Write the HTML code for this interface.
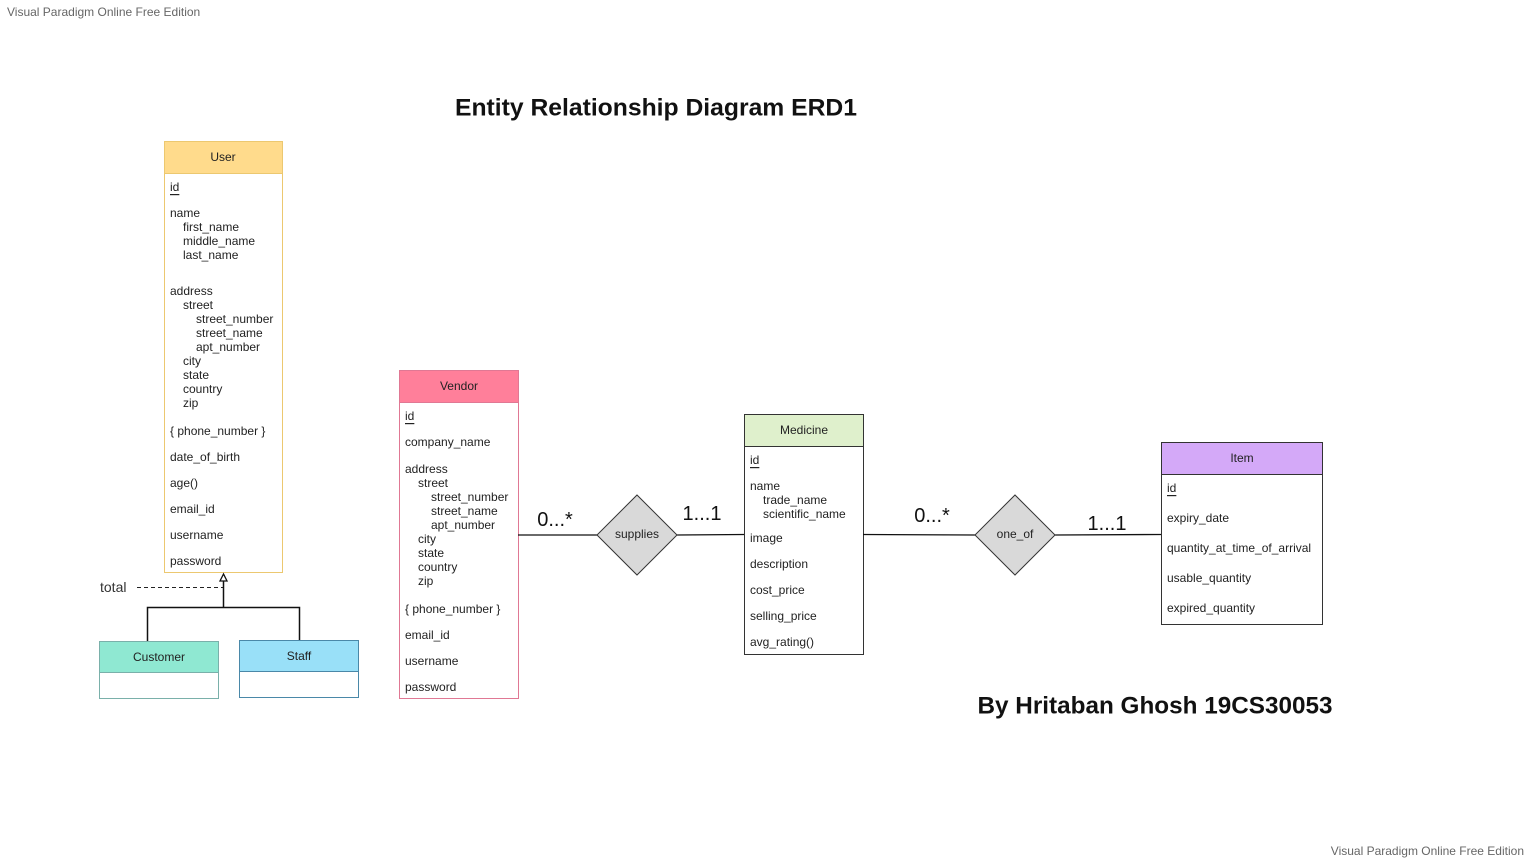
<!DOCTYPE html>
<html><head><meta charset="utf-8"><style>
html,body{margin:0;padding:0;background:#fff;}
svg{display:block;font-family:"Liberation Sans",Arial,sans-serif;}
.t{font-size:12px;fill:#222;dominant-baseline:central;}
.h{font-size:12px;fill:#222;dominant-baseline:central;text-anchor:middle;}
.u{text-decoration:underline;}
.c{font-size:20px;fill:#111;dominant-baseline:central;text-anchor:middle;}
</style></head><body>
<svg width="1530" height="860" viewBox="0 0 1530 860" xmlns="http://www.w3.org/2000/svg">
<text x="7" y="12" font-size="12" fill="#666" dominant-baseline="central">Visual Paradigm Online Free Edition</text>
<text x="1524" y="851" font-size="12" fill="#666" dominant-baseline="central" text-anchor="end">Visual Paradigm Online Free Edition</text>
<text x="656" y="108" font-size="24" font-weight="bold" fill="#111" dominant-baseline="central" text-anchor="middle" textLength="402" lengthAdjust="spacingAndGlyphs">Entity Relationship Diagram ERD1</text>
<text x="1155" y="706" font-size="24" font-weight="bold" fill="#111" dominant-baseline="central" text-anchor="middle" textLength="355" lengthAdjust="spacingAndGlyphs">By Hritaban Ghosh 19CS30053</text>

<!-- User -->
<rect x="164.5" y="141.5" width="118" height="431" fill="#fff" stroke="#ecc870"/>
<rect x="164.5" y="141.5" width="118" height="32" fill="#ffdb8c" stroke="#ecc870"/>
<text class="h" x="223" y="157">User</text>
<g class="t">
<text class="t u" x="170" y="187">id</text>
<text class="t" x="170" y="213">name</text>
<text class="t" x="183" y="227">first_name</text>
<text class="t" x="183" y="241">middle_name</text>
<text class="t" x="183" y="255">last_name</text>
<text class="t" x="170" y="291">address</text>
<text class="t" x="183" y="305">street</text>
<text class="t" x="196" y="319">street_number</text>
<text class="t" x="196" y="333">street_name</text>
<text class="t" x="196" y="347">apt_number</text>
<text class="t" x="183" y="361">city</text>
<text class="t" x="183" y="375">state</text>
<text class="t" x="183" y="389">country</text>
<text class="t" x="183" y="403">zip</text>
<text class="t" x="170" y="431">{ phone_number }</text>
<text class="t" x="170" y="457">date_of_birth</text>
<text class="t" x="170" y="483">age()</text>
<text class="t" x="170" y="509">email_id</text>
<text class="t" x="170" y="535">username</text>
<text class="t" x="170" y="561">password</text>
</g>

<!-- generalization -->
<line x1="137" y1="587.5" x2="223" y2="587.5" stroke="#222" stroke-dasharray="4,3"/>
<text x="100" y="587" font-size="14" fill="#333" dominant-baseline="central">total</text>
<polyline points="147.5,641 147.5,607.5 299.5,607.5 299.5,640" fill="none" stroke="#111" stroke-width="1.5"/>
<line x1="223.5" y1="607.5" x2="223.5" y2="581" stroke="#111" stroke-width="1.5"/>
<polygon points="223.5,574 220,581 227,581" fill="#fff" stroke="#111" stroke-width="1.3"/>

<!-- Customer -->
<rect x="99.5" y="641.5" width="119" height="57" fill="#fff" stroke="#7ab0aa"/>
<rect x="99.5" y="641.5" width="119" height="31" fill="#8fe8d2" stroke="#7ab0aa"/>
<text class="h" x="159" y="657">Customer</text>
<!-- Staff -->
<rect x="239.5" y="640.5" width="119" height="57" fill="#fff" stroke="#4a88a8"/>
<rect x="239.5" y="640.5" width="119" height="31" fill="#99e0f8" stroke="#4a88a8"/>
<text class="h" x="299" y="656">Staff</text>

<!-- Vendor -->
<rect x="399.5" y="370.5" width="119" height="328" fill="#fff" stroke="#e07894"/>
<rect x="399.5" y="370.5" width="119" height="32" fill="#ff7f9a" stroke="#e07894"/>
<text class="h" x="459" y="386">Vendor</text>
<text class="t u" x="405" y="416">id</text>
<text class="t" x="405" y="442">company_name</text>
<text class="t" x="405" y="469">address</text>
<text class="t" x="418" y="483">street</text>
<text class="t" x="431" y="497">street_number</text>
<text class="t" x="431" y="511">street_name</text>
<text class="t" x="431" y="525">apt_number</text>
<text class="t" x="418" y="539">city</text>
<text class="t" x="418" y="553">state</text>
<text class="t" x="418" y="567">country</text>
<text class="t" x="418" y="581">zip</text>
<text class="t" x="405" y="609">{ phone_number }</text>
<text class="t" x="405" y="635">email_id</text>
<text class="t" x="405" y="661">username</text>
<text class="t" x="405" y="687">password</text>

<!-- Medicine -->
<rect x="744.5" y="414.5" width="119" height="240" fill="#fff" stroke="#333"/>
<rect x="744.5" y="414.5" width="119" height="32" fill="#dff0cc" stroke="#333"/>
<text class="h" x="804" y="430">Medicine</text>
<text class="t u" x="750" y="460">id</text>
<text class="t" x="750" y="486">name</text>
<text class="t" x="763" y="500">trade_name</text>
<text class="t" x="763" y="514">scientific_name</text>
<text class="t" x="750" y="538">image</text>
<text class="t" x="750" y="564">description</text>
<text class="t" x="750" y="590">cost_price</text>
<text class="t" x="750" y="616">selling_price</text>
<text class="t" x="750" y="642">avg_rating()</text>

<!-- Item -->
<rect x="1161.5" y="442.5" width="161" height="182" fill="#fff" stroke="#333"/>
<rect x="1161.5" y="442.5" width="161" height="32" fill="#d4a9f8" stroke="#333"/>
<text class="h" x="1242" y="458">Item</text>
<text class="t u" x="1167" y="488">id</text>
<text class="t" x="1167" y="518">expiry_date</text>
<text class="t" x="1167" y="548">quantity_at_time_of_arrival</text>
<text class="t" x="1167" y="578">usable_quantity</text>
<text class="t" x="1167" y="608">expired_quantity</text>

<!-- connectors -->
<line x1="518" y1="535" x2="597" y2="535" stroke="#111" stroke-width="1.3"/>
<line x1="677" y1="535" x2="744" y2="534.5" stroke="#111" stroke-width="1.3"/>
<line x1="863" y1="534.5" x2="975" y2="535" stroke="#111" stroke-width="1.3"/>
<line x1="1055" y1="535" x2="1161" y2="534.5" stroke="#111" stroke-width="1.3"/>
<polygon points="637,495 677,535 637,575 597,535" fill="#d9d9d9" stroke="#333"/>
<text class="h" x="637" y="534">supplies</text>
<polygon points="1015,495 1055,535 1015,575 975,535" fill="#d9d9d9" stroke="#333"/>
<text class="h" x="1015" y="534">one_of</text>
<text class="c" x="555" y="520">0...*</text>
<text class="c" x="702" y="514">1...1</text>
<text class="c" x="932" y="516">0...*</text>
<text class="c" x="1107" y="524">1...1</text>
</svg>
</body></html>
